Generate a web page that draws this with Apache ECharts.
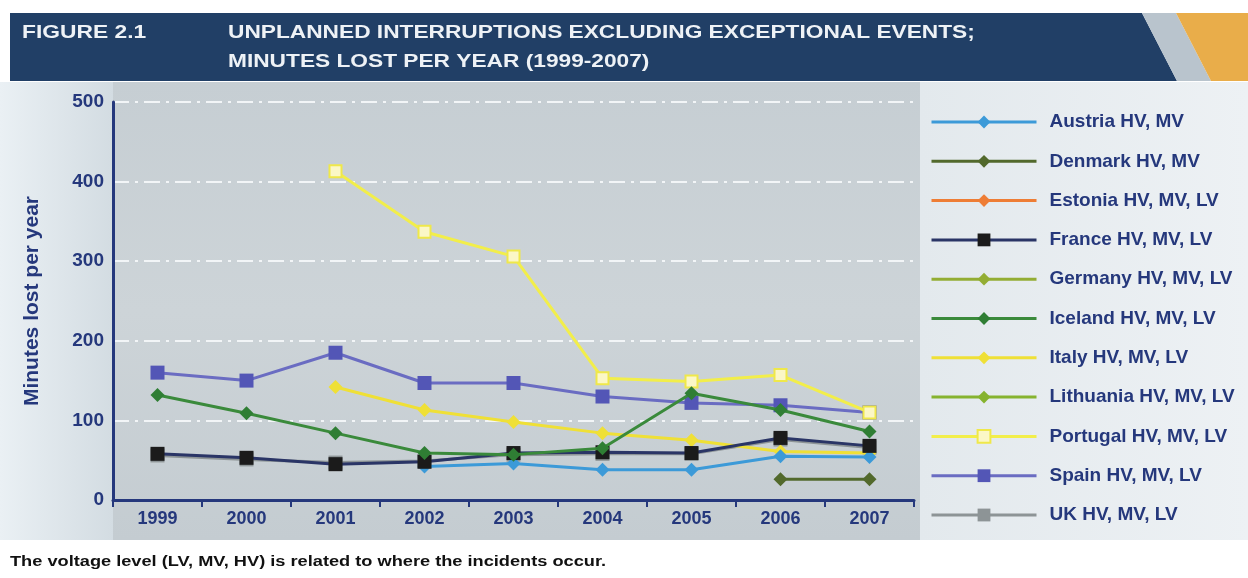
<!DOCTYPE html>
<html>
<head>
<meta charset="utf-8">
<script src="https://cdn.jsdelivr.net/npm/echarts@6/dist/echarts.min.js"></script>
<style>
  html, body { margin: 0; padding: 0; background: #ffffff; }
  #chart { width: 1248px; height: 578px; }
</style>
</head>
<body>
<div id="chart"></div>
<script>
// Unplanned interruptions excluding exceptional events, minutes lost per year
const years = ['1999', '2000', '2001', '2002', '2003', '2004', '2005', '2006', '2007'];
const yTicks = [0, 100, 200, 300, 400, 500];

const austria   = [null, null, null, 42, 46, 38, 38, 55, 54];
const denmark   = [null, null, null, null, null, null, null, 26, 26];
const estonia   = [null, null, null, null, null, null, null, null, null];
const france    = [58, 53, 45, 48, 59, 60, 59, 78, 68];
const germany   = [null, null, null, null, null, null, null, null, null];
const iceland   = [132, 109, 84, 59, 57, 65, 134, 113, 86];
const italy     = [null, null, 142, 113, 98, 84, 75, 61, 59];
const lithuania = [null, null, null, null, null, null, null, null, null];
const portugal  = [null, null, 413, 337, 306, 153, 149, 157, 110];
const spain     = [160, 150, 185, 147, 147, 130, 122, 119, 110];
const uk        = [56, 51, 47, 49, 57, 58, 58, 76, 66];

const NAVY = '#25387c';

function line(name, data, color, symbol, opts) {
  opts = opts || {};
  return {
    name: name,
    type: 'line',
    data: data,
    symbol: symbol,
    symbolSize: opts.size || 14,
    connectNulls: false,
    z: opts.z || 2,
    lineStyle: { color: opts.lineColor || color, width: 3 },
    itemStyle: {
      color: opts.markColor || color,
      borderColor: opts.border || (opts.markColor || color),
      borderWidth: opts.borderWidth || 0
    }
  };
}

// wide header / footnote lettering
function wideText(x, y, text, font, fill, sx) {
  return { type: 'text', z: 1, x: x, y: y, scaleX: sx, originX: 0,
           style: { text: text, fill: fill, font: font } };
}

const chart = echarts.init(document.getElementById('chart'), null, { renderer: 'canvas' });

chart.setOption({
  animation: false,
  backgroundColor: '#ffffff',
  textStyle: { fontFamily: 'Liberation Sans' },
  graphic: [
    // header band
    { type: 'polygon', z: 0, shape: { points: [[10, 13], [1142, 13], [1177, 81], [10, 81]] }, style: { fill: '#213f66' } },
    { type: 'polygon', z: 0, shape: { points: [[1142, 13], [1176, 13], [1211, 81], [1177, 81]] }, style: { fill: '#b9c4cd' } },
    { type: 'polygon', z: 0, shape: { points: [[1176, 13], [1248, 13], [1248, 81], [1211, 81]] }, style: { fill: '#e9ad4a' } },
    wideText(22, 23, 'FIGURE 2.1', 'bold 19px "Liberation Sans"', '#eef2f6', 1.2),
    wideText(228, 23, 'UNPLANNED INTERRUPTIONS EXCLUDING EXCEPTIONAL EVENTS;', 'bold 19px "Liberation Sans"', '#eef2f6', 1.195),
    wideText(228, 52, 'MINUTES LOST PER YEAR (1999-2007)', 'bold 19px "Liberation Sans"', '#eef2f6', 1.195),
    // panels
    { type: 'rect', z: -10, shape: { x: 0, y: 82, width: 113, height: 458 },
      style: { fill: new echarts.graphic.LinearGradient(0, 0, 1, 0, [{ offset: 0, color: '#eaf0f4' }, { offset: 1, color: '#d3dce2' }]) } },
    { type: 'rect', z: -10, shape: { x: 113, y: 82, width: 807, height: 458 },
      style: { fill: new echarts.graphic.LinearGradient(0, 0, 0, 1, [{ offset: 0, color: '#c6ced3' }, { offset: 0.5, color: '#cdd4d8' }, { offset: 1, color: '#c4ccd1' }]) } },
    { type: 'rect', z: -10, shape: { x: 920, y: 82, width: 328, height: 458 },
      style: { fill: new echarts.graphic.LinearGradient(0, 0, 1, 0, [{ offset: 0, color: '#e3e9ed' }, { offset: 1, color: '#edf1f4' }]) } },
    // footnote
    wideText(10, 555, 'The voltage level (LV, MV, HV) is related to where the incidents occur.', 'bold 14px "Liberation Sans"', '#111111', 1.3)
  ],
  grid: { left: 113, right: 334, top: 102, bottom: 78 },
  legend: {
    orient: 'vertical',
    left: 925,
    top: 107,
    padding: 5,
    itemWidth: 105,
    itemHeight: 16,
    itemGap: 19.3,
    lineStyle: { width: 3 },
    textStyle: { color: NAVY, fontSize: 19, lineHeight: 20, fontWeight: 'bold', fontFamily: 'Liberation Sans', padding: [0, 0, 0, 8] },
    data: ['Austria HV, MV', 'Denmark HV, MV', 'Estonia HV, MV, LV', 'France HV, MV, LV', 'Germany HV, MV, LV',
           'Iceland HV, MV, LV', 'Italy HV, MV, LV', 'Lithuania HV, MV, LV', 'Portugal HV, MV, LV', 'Spain HV, MV, LV', 'UK HV, MV, LV']
  },
  xAxis: {
    type: 'category',
    data: years,
    boundaryGap: true,
    axisLine: { lineStyle: { color: NAVY, width: 3 } },
    axisTick: { show: true, length: 7, lineStyle: { color: NAVY, width: 2 } },
    axisLabel: { color: NAVY, fontSize: 18, fontWeight: 'bold', margin: 10 }
  },
  yAxis: {
    type: 'value',
    min: yTicks[0],
    max: yTicks[yTicks.length - 1],
    interval: 100,
    name: 'Minutes lost per year',
    nameLocation: 'middle',
    nameRotate: 90,
    nameGap: 70,
    nameTextStyle: { color: NAVY, fontSize: 21, fontWeight: 'bold' },
    axisLine: { show: true, lineStyle: { color: NAVY, width: 3 } },
    axisTick: { show: false },
    axisLabel: { color: NAVY, fontSize: 19, fontWeight: 'bold', margin: 9 },
    splitLine: { show: true, lineStyle: { color: '#f2f5f7', width: 2, type: [16, 6, 3, 6] } }
  },
  series: [
    line('Austria HV, MV', austria, '#3c9ad8', 'diamond', { z: 4 }),
    line('Denmark HV, MV', denmark, '#52692c', 'diamond', { z: 3 }),
    line('Estonia HV, MV, LV', estonia, '#ee7d35', 'diamond'),
    line('UK HV, MV, LV', uk, '#8d9496', 'rect', { z: 2 }),
    line('France HV, MV, LV', france, '#1a1a1a', 'rect', { lineColor: '#2a3566', markColor: '#1b1b1b', z: 5, size: 14 }),
    line('Germany HV, MV, LV', germany, '#93ad33', 'diamond'),
    line('Lithuania HV, MV, LV', lithuania, '#86b32f', 'diamond'),
    line('Italy HV, MV, LV', italy, '#efe036', 'diamond', { z: 3 }),
    line('Spain HV, MV, LV', spain, '#4e50b0', 'rect', { lineColor: '#6a6cc2', markColor: '#5356b6', z: 3 }),
    line('Portugal HV, MV, LV', portugal, '#f2ee4a', 'rect', { markColor: '#fbf7c6', border: '#efe84a', borderWidth: 2, size: 12, z: 4 }),
    line('Iceland HV, MV, LV', iceland, '#2f7e34', 'diamond', { lineColor: '#3a8a3b', z: 6 })
  ]
});
</script>
</body>
</html>
